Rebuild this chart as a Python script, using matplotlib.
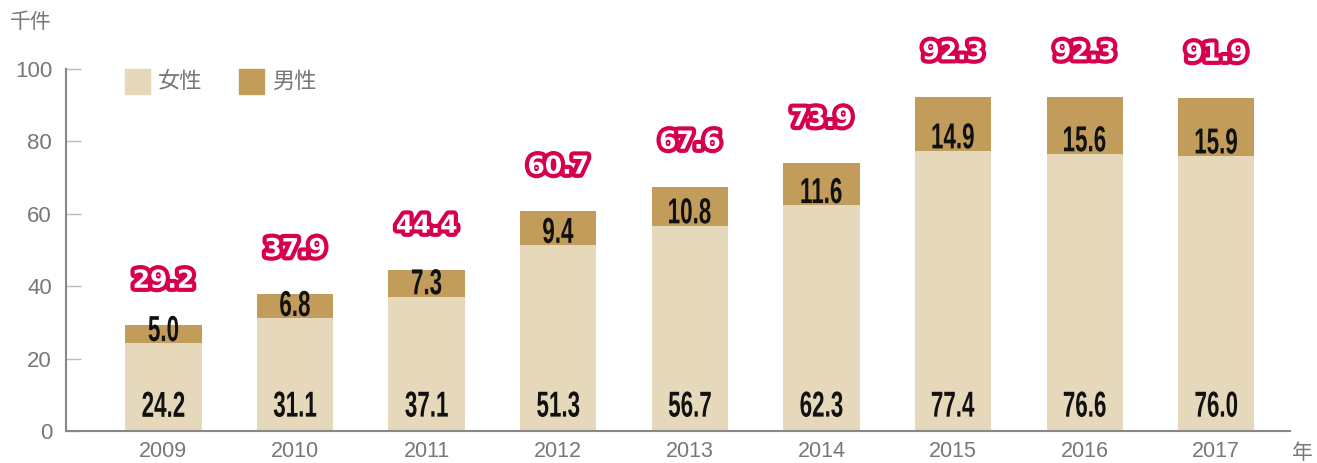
import matplotlib
matplotlib.use("Agg")
import matplotlib.pyplot as plt
import matplotlib.patheffects as pe
from matplotlib.patches import Rectangle, PathPatch
from matplotlib.textpath import TextPath
from matplotlib.font_manager import FontProperties
from matplotlib.transforms import Affine2D, ScaledTranslation

plt.rcParams["font.family"] = ["Liberation Sans", "Noto Sans CJK JP", "DejaVu Sans"]

years = ["2009", "2010", "2011", "2012", "2013", "2014", "2015", "2016", "2017"]
female = [24.2, 31.1, 37.1, 51.3, 56.7, 62.3, 77.4, 76.6, 76.0]
male = [5.0, 6.8, 7.3, 9.4, 10.8, 11.6, 14.9, 15.6, 15.9]
totals = [29.2, 37.9, 44.4, 60.7, 67.6, 73.9, 92.3, 92.3, 91.9]
series_names = ["女性", "男性"]

c_female = "#e5d8bb"
c_male = "#c19c5b"
c_red = "#d6004f"
c_grey = "#777777"

fig = plt.figure(figsize=(13.17, 4.63), dpi=100)
ax = fig.add_axes([0.0501, 0.0691, 0.9294, 0.7819])

cond_fp = FontProperties(family="Liberation Sans", weight="bold")


def condensed(ax, x, y, s, cap_px=26, squeeze=0.62):
    """Draw a horizontally squeezed number centred at data (x, y)."""
    tp = TextPath((0, 0), s, size=100, prop=cond_fp)
    ext = tp.get_extents()
    k = cap_px / 72.0  # digit height ~0.72 em at size 100
    tr = (Affine2D().translate(-(ext.x0 + ext.x1) / 2, -(ext.y0 + ext.y1) / 2)
          .scale(k * squeeze, k)
          + ScaledTranslation(x, y, ax.transData))
    ax.add_patch(PathPatch(tp, transform=tr, color="#111111", lw=0, zorder=3))


x = list(range(len(years)))
ax.bar(x, female, width=0.58, color=c_female, zorder=2)
ax.bar(x, male, width=0.58, bottom=female, color=c_male, zorder=2)

for i in x:
    condensed(ax, i, 7.4, f"{female[i]:.1f}")
    condensed(ax, i, female[i] + 4.1, f"{male[i]:.1f}")
    t = ax.text(i, totals[i] + 12.3, f"{totals[i]:.1f}", ha="center", va="center",
                family="DejaVu Sans", fontsize=18, fontweight="bold", color="white",
                clip_on=False, zorder=4)
    t.set_path_effects([pe.Stroke(linewidth=6, foreground=c_red), pe.Normal()])

ax.set_xlim(-0.74, 8.56)
ax.set_ylim(0, 100)
ax.set_yticks([0, 20, 40, 60, 80, 100])
ax.set_xticks(x)
ax.set_xticklabels(years)
for s in ("top", "right"):
    ax.spines[s].set_visible(False)
for s in ("left", "bottom"):
    ax.spines[s].set_color("#888888")
    ax.spines[s].set_linewidth(1.5)
ax.tick_params(axis="y", direction="in", length=11, width=1, color="#bbbbbb",
               labelsize=16, labelcolor=c_grey, pad=10)
ax.tick_params(axis="x", length=0, labelsize=15.5, labelcolor=c_grey, pad=7)

# legend
for k, (name, col) in enumerate(zip(series_names, [c_female, c_male])):
    x0 = 125 + k * 114
    fig.patches.append(Rectangle((x0 / 1317, 1 - 94 / 463), 25 / 1317, 25 / 463,
                                 transform=fig.transFigure, color=col))
    fig.text((x0 + 33) / 1317, 1 - 82 / 463, name, fontsize=16, color=c_grey,
             va="center", ha="left")

fig.text(10 / 1317, 1 - 22 / 463, "千件", fontsize=15, color=c_grey, va="center", ha="left")
fig.text(1292 / 1317, 1 - 453 / 463, "年", fontsize=15, color=c_grey, va="center", ha="left")

fig.savefig("out.png", dpi=100)
